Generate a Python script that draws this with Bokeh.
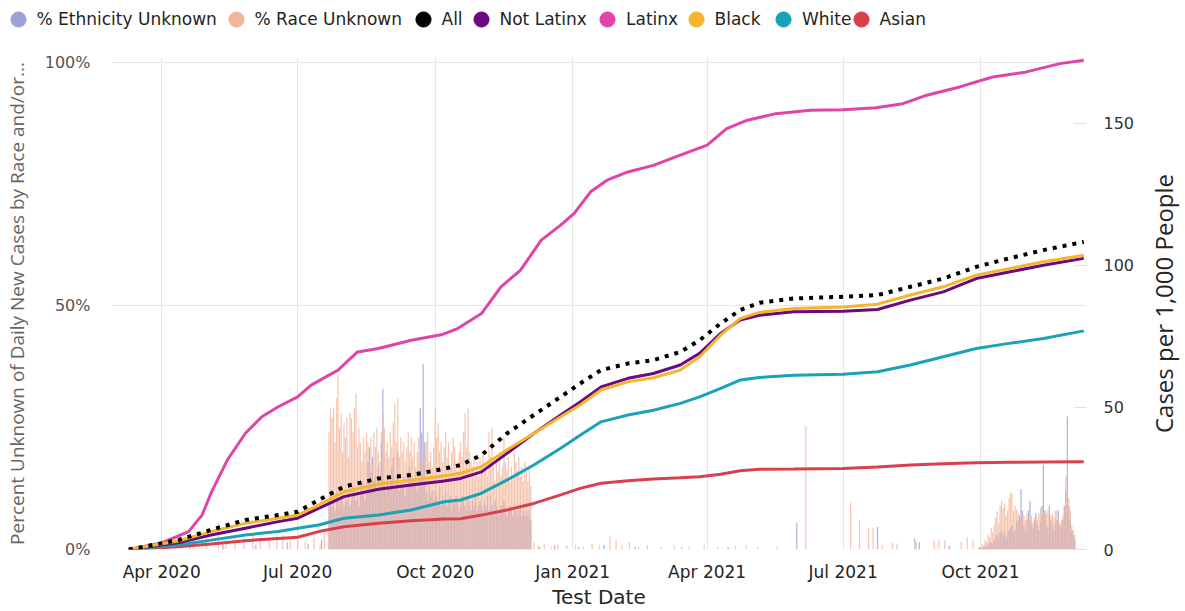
import pandas as pd
from bokeh.plotting import figure
from bokeh.layouts import column, row
from bokeh.models import (Range1d, LinearAxis, FixedTicker, MonthsTicker, DatetimeTickFormatter,
                          NumeralTickFormatter, Legend, LegendItem, ColumnDataSource)
from bokeh.embed import file_html
from bokeh.resources import INLINE

# ---------------- data ----------------
line_dates = ["2020-03-10", "2020-04-12", "2020-05-04", "2020-05-27", "2020-06-18", "2020-07-01",
              "2020-07-15", "2020-08-01", "2020-08-24", "2020-09-15", "2020-10-07", "2020-10-18",
              "2020-11-01", "2020-11-18", "2020-12-06", "2020-12-24", "2021-01-06", "2021-01-20",
              "2021-02-07", "2021-02-24", "2021-03-14", "2021-03-27", "2021-04-10", "2021-04-23",
              "2021-05-06", "2021-05-29", "2021-07-01", "2021-07-24", "2021-08-15", "2021-09-06",
              "2021-09-28", "2021-10-20", "2021-11-12", "2021-12-09"]
all_cases = [0, 3.3, 6.9, 10.4, 12.1, 13.3, 17.4, 22.1, 25.0, 26.2, 28.4, 29.7, 33.2, 40.8, 47.3, 53.7,
             58.4, 63.1, 65.4, 66.6, 69.5, 73.6, 79.5, 84.2, 86.8, 88.3, 88.9, 89.5, 92.4, 95.3, 99.4,
             102.4, 105.3, 108.2]
not_latinx = [0, 2.4, 5.1, 7.5, 9.8, 11.0, 14.5, 18.6, 21.2, 22.7, 24.1, 25.0, 27.3, 33.8, 40.8, 47.3,
              51.9, 57.2, 60.2, 61.9, 64.9, 69.0, 76.0, 80.7, 82.4, 83.6, 83.8, 84.4, 87.7, 90.6, 95.3,
              97.6, 100.0, 102.4]
black = [0, 3.0, 6.3, 9.2, 11.0, 12.1, 15.6, 20.3, 23.0, 24.4, 25.9, 26.8, 29.1, 35.0, 40.8, 46.7,
         50.8, 56.1, 59.0, 60.4, 63.1, 67.8, 75.4, 81.2, 83.4, 84.8, 85.3, 86.3, 89.5, 92.4, 96.5,
         98.8, 101.2, 103.5]
white = [0, 1.6, 3.3, 5.1, 6.3, 7.5, 8.6, 11.0, 12.1, 13.9, 16.8, 17.4, 19.8, 24.4, 29.7, 35.6,
         40.2, 44.9, 47.3, 49.0, 51.4, 53.7, 56.7, 59.6, 60.5, 61.3, 61.6, 62.5, 64.9, 67.8, 70.7,
         72.5, 74.2, 76.9]
asian = [0, 1.0, 1.9, 3.1, 3.9, 4.3, 6.3, 8.0, 9.2, 10.1, 10.7, 10.8, 12.1, 13.9, 16.2, 19.2,
         21.5, 23.3, 24.2, 24.8, 25.2, 25.6, 26.5, 27.7, 28.2, 28.3, 28.5, 29.0, 29.7, 30.2, 30.5,
         30.7, 30.8, 30.9]

latinx_dates = ["2020-03-10", "2020-04-01", "2020-04-19", "2020-04-28", "2020-05-04", "2020-05-15",
                "2020-05-27", "2020-06-07", "2020-06-18", "2020-07-01", "2020-07-10", "2020-07-28",
                "2020-08-10", "2020-08-24", "2020-09-15", "2020-10-05", "2020-10-16", "2020-11-01",
                "2020-11-14", "2020-11-27", "2020-12-11", "2020-12-24", "2021-01-02", "2021-01-13",
                "2021-01-24", "2021-02-07", "2021-02-24", "2021-03-14", "2021-04-01", "2021-04-14",
                "2021-04-28", "2021-05-17", "2021-06-09", "2021-07-01", "2021-07-23", "2021-08-10",
                "2021-08-26", "2021-09-17", "2021-10-09", "2021-10-31", "2021-11-23", "2021-12-09"]
latinx = [0, 2.3, 6.3, 12.1, 19.8, 31.5, 40.9, 46.7, 50.2, 53.7, 57.8, 63.1, 69.5, 70.7, 73.6, 75.5,
          77.7, 83.0, 92.4, 98.2, 108.8, 114.1, 118.2, 125.8, 129.9, 132.8, 135.1, 138.7, 142.2,
          148.0, 151.0, 153.3, 154.5, 154.7, 155.4, 156.8, 159.8, 162.7, 166.2, 167.9, 170.9, 172.1]

# daily % unknown, dense block 2020-07-22 .. 2020-12-04
dense_start = "2020-07-22"
race_dense = [24, 29, 27, 29, 22, 31, 36, 25, 28, 20,
              26, 23, 27, 19, 28, 27, 24, 29, 32, 21, 25, 22, 18, 23, 20, 24, 22, 19, 23, 17, 24, 21,
              25, 20, 18, 24, 28, 25, 20, 22, 19,
              24, 21, 26, 30, 22, 31, 19, 23, 20, 22, 18, 21, 24, 20, 23, 19, 22, 17, 20, 23, 18, 21,
              16, 19, 22, 24, 18, 20, 17, 21,
              29, 23, 26, 20, 22, 18, 21, 24, 19, 22, 17, 20, 23, 21, 18, 16, 20, 22, 19, 24, 28, 21,
              29, 20, 18, 17, 19, 16, 18, 15, 19,
              17, 20, 16, 18, 15, 24, 19, 25, 17, 14, 18, 16, 20, 15, 17, 23, 18, 16, 19, 14, 17, 15,
              20, 18, 16, 19, 15, 17, 14, 18,
              16, 14, 17, 13]
eth_dense = [10, 12, 9, 11, 8, 12, 10, 9, 11, 10,
             9, 11, 10, 12, 9, 10, 13, 11, 10, 12, 9, 11, 14, 12, 10, 13, 18, 21, 16, 19, 14, 15,
             12, 17, 13, 22, 33, 14, 12, 15, 13,
             14, 17, 19, 13, 15, 20, 12, 14, 13, 15, 11, 13, 16, 17, 15, 14, 13, 16, 12, 14, 29, 24,
             38, 22, 12, 10, 13, 11, 12, 10,
             12, 11, 10, 13, 9, 11, 10, 12, 9, 10, 11, 8, 10, 9, 11, 10, 8, 9, 11, 10, 9, 8, 10, 9,
             8, 10, 9, 11, 8, 9, 10,
             9, 8, 10, 9, 11, 8, 11, 9, 8, 10, 9, 8, 7, 9, 8, 10, 9, 7, 8, 9, 8, 7, 9, 8, 7, 8, 9,
             7, 8, 7,
             8, 7, 8, 6]

# daily % unknown, late block 2021-10-01 .. 2021-12-03
late_start = "2021-10-01"
race_late = [0.5, 1.2, 0.8, 2.0, 1.5, 3.0, 2.5, 4.4, 3.5, 5.0,
             6.5, 7.8, 5.5, 9.0, 10.0, 8.5, 9.5, 7.0, 8.0, 10.5,
             11.7, 11.5, 8.0, 9.0, 8.2, 7.5, 6.5, 8.0, 6.5, 7.0, 6.0,
             7.5, 6.5, 6.0, 7.0, 5.5, 6.5, 7.0, 6.0, 7.5, 8.5,
             7.0, 6.5, 8.0, 7.5, 8.2, 6.0, 7.0, 7.5, 6.5, 8.0,
             8.0, 6.5, 5.5, 6.0, 7.0, 9.0, 15.0, 11.0, 10.6, 8.0,
             5.0, 4.0, 3.0]
eth_late = [0.5, 0.3, 0.5, 0.8, 0.5, 1.0, 1.2, 1.5, 1.0, 2.0,
            2.5, 3.0, 2.0, 3.5, 4.0, 3.0, 3.5, 2.5, 3.0, 4.0,
            4.5, 5.0, 3.5, 4.0, 5.5, 6.0, 7.0, 12.4, 8.0, 5.0, 4.0,
            6.0, 8.0, 10.0, 5.5, 4.5, 6.0, 7.5, 5.0, 4.0, 5.5,
            9.0, 17.4, 8.0, 5.0, 4.5, 9.0, 6.0, 5.0, 4.0, 5.5,
            6.0, 8.0, 5.0, 4.5, 6.0, 9.0, 12.0, 27.3, 9.0, 6.0,
            4.0, 3.0, 2.0]

# scattered days outside the blocks
race_sparse_dates = ["2020-03-25", "2020-04-05", "2020-04-14", "2020-04-22", "2020-05-01", "2020-05-09",
                     "2020-05-14", "2020-05-20", "2020-05-26", "2020-06-01", "2020-06-06", "2020-06-12",
                     "2020-06-17", "2020-06-21", "2020-06-26", "2020-07-01", "2020-07-06", "2020-07-12",
                     "2020-07-16", "2020-07-19",
                     "2020-12-06", "2020-12-09", "2020-12-13", "2020-12-18", "2020-12-22", "2020-12-28",
                     "2021-01-03", "2021-01-08", "2021-01-14", "2021-01-19", "2021-01-26", "2021-01-30",
                     "2021-02-03", "2021-02-08", "2021-02-14", "2021-02-20", "2021-03-01", "2021-03-10",
                     "2021-03-20", "2021-03-30", "2021-04-08", "2021-04-20", "2021-04-27", "2021-05-05",
                     "2021-05-18", "2021-06-06", "2021-07-06", "2021-07-12", "2021-07-18", "2021-07-21",
                     "2021-07-27", "2021-08-03", "2021-08-06", "2021-08-19", "2021-08-31", "2021-09-03",
                     "2021-09-07", "2021-09-18", "2021-09-22", "2021-09-26"]
race_sparse = [1.0, 1.5, 2.0, 1.2, 2.5, 5.5, 2.0, 3.0, 2.2, 3.0, 2.5, 2.0, 3.2, 3.0, 1.8, 2.0, 1.5, 2.5,
               1.0, 3.5,
               1.5, 0.8, 1.2, 0.6, 1.0, 0.8, 1.0, 0.7, 1.2, 0.8, 2.7, 2.0, 1.0, 1.5, 0.6, 0.8, 0.5, 0.8,
               0.6, 1.0, 0.5, 0.8, 1.0, 0.5, 0.6, 25.3, 9.6, 6.0, 4.5, 4.3, 1.0, 1.5, 1.2, 1.6, 1.8,
               2.0, 1.9, 1.6, 2.5, 1.8]
eth_sparse_dates = ["2020-04-20", "2020-05-12", "2020-06-03", "2020-06-24", "2020-07-08", "2020-07-17",
                    "2020-12-10", "2020-12-20", "2021-01-05", "2021-01-22", "2021-02-12", "2021-03-15",
                    "2021-04-15", "2021-05-31", "2021-07-24", "2021-08-18", "2021-08-21", "2021-09-10",
                    "2021-09-30"]
eth_sparse = [0.8, 1.2, 1.0, 1.5, 1.2, 2.0,
              0.5, 0.8, 0.5, 1.0, 0.5, 0.4, 0.5, 5.5, 4.6, 2.3, 1.5, 0.8, 0.5]

# ---------------- styling ----------------
C_ETH = "#9ea2dc"
C_RACE = "#f2b49a"
C_ALL = "#000000"
C_NOTLAT = "#6a0a7e"
C_LAT = "#e044a7"
C_BLACK = "#f5b52e"
C_WHITE = "#1aa3b6"
C_ASIAN = "#d9404e"
GRID = "#e6e6e6"
FONT = "Open Sans"
TICKFONT = "DejaVu Sans"
DAY = 86400000

# ---------------- main chart ----------------
p = figure(width=1145, height=564, x_axis_type="datetime",
           x_range=Range1d(pd.Timestamp("2020-02-27 10:00"), pd.Timestamp("2021-12-10 20:00")),
           y_range=Range1d(0, 1.0096),
           output_backend="svg", toolbar_location=None,
           min_border_left=110, min_border_right=59, min_border_top=10, min_border_bottom=61)
p.outline_line_color = None
p.background_fill_color = "white"
p.border_fill_color = "white"
p.extra_y_ranges = {"cases": Range1d(0, 173.05)}

def bar_frame(dates, vals):
    return ColumnDataSource(dict(x=pd.to_datetime(dates), top=[v / 100.0 for v in vals]))

eth_dates_all = (list(pd.date_range(dense_start, periods=len(eth_dense), freq="D"))
                 + list(pd.date_range(late_start, periods=len(eth_late), freq="D"))
                 + list(pd.to_datetime(eth_sparse_dates)))
race_dates_all = (list(pd.date_range(dense_start, periods=len(race_dense), freq="D"))
                  + list(pd.date_range(late_start, periods=len(race_late), freq="D"))
                  + list(pd.to_datetime(race_sparse_dates)))
eth_src = bar_frame(eth_dates_all, eth_dense + eth_late + eth_sparse)
race_src = bar_frame(race_dates_all, race_dense + race_late + race_sparse)

p.vbar(x="x", top="top", bottom=0, width=0.85 * DAY, source=eth_src,
       fill_color=C_ETH, fill_alpha=0.8, line_color=None)
p.vbar(x="x", top="top", bottom=0, width=0.85 * DAY, source=race_src,
       fill_color=C_RACE, fill_alpha=0.75, line_color=None)

ld = pd.to_datetime(line_dates)
p.line(pd.to_datetime(latinx_dates), latinx, y_range_name="cases", line_color=C_LAT, line_width=3)
p.line(ld, asian, y_range_name="cases", line_color=C_ASIAN, line_width=3)
p.line(ld, white, y_range_name="cases", line_color=C_WHITE, line_width=3)
p.line(ld, not_latinx, y_range_name="cases", line_color=C_NOTLAT, line_width=3)
p.line(ld, black, y_range_name="cases", line_color=C_BLACK, line_width=3)
p.line(ld, all_cases, y_range_name="cases", line_color=C_ALL, line_width=4, line_dash="4 6")

la = p.left[0]
la.ticker = FixedTicker(ticks=[0, 0.5, 1.0])
la.formatter = NumeralTickFormatter(format="0%")
la.axis_line_color = None
la.major_tick_line_color = None
la.minor_tick_line_color = None
la.major_label_standoff = 15
la.major_label_text_font = TICKFONT
la.major_label_text_font_size = "16px"
la.major_label_text_color = "#5b5350"
la.axis_label = "Percent Unknown of Daily New Cases by Race and/or..."
la.axis_label_text_font = FONT
la.axis_label_text_font_style = "normal"
la.axis_label_text_font_size = "19px"
la.axis_label_text_color = "#666666"
la.axis_label_standoff = 12

ra = LinearAxis(y_range_name="cases", ticker=FixedTicker(ticks=[0, 50, 100, 150]))
ra.axis_line_color = None
ra.major_tick_in = 12
ra.major_tick_out = 0
ra.major_tick_line_color = "#e0e0e0"
ra.minor_tick_line_color = None
ra.major_label_standoff = 17
ra.major_label_text_font = TICKFONT
ra.major_label_text_font_size = "16px"
ra.major_label_text_color = "#333333"
p.add_layout(ra, "right")

xa = p.below[0]
xa.ticker = MonthsTicker(months=[0, 3, 6, 9])
fmt = "%b %Y"
xa.formatter = DatetimeTickFormatter(months=fmt, days=fmt, years=fmt)
xa.axis_line_color = None
xa.major_tick_line_color = None
xa.minor_tick_line_color = None
xa.major_label_standoff = 6
xa.major_label_text_font = TICKFONT
xa.major_label_text_font_size = "17px"
xa.major_label_text_color = "#252423"
xa.axis_label = "Test Date"
xa.axis_label_text_font = TICKFONT
xa.axis_label_text_font_style = "normal"
xa.axis_label_text_font_size = "20px"
xa.axis_label_text_color = "#252423"
xa.axis_label_standoff = 0

p.xgrid.ticker = MonthsTicker(months=[0, 3, 6, 9])
p.xgrid.grid_line_color = GRID
p.ygrid.grid_line_color = GRID

# ---------------- right-hand axis title (own strip so it reads bottom-to-top) ----------------
tf = figure(width=40, height=564, output_backend="svg", toolbar_location=None,
            x_range=Range1d(0, 1), y_range=Range1d(0, 1),
            x_axis_location=None, y_axis_location="left",
            min_border_left=38, min_border_right=0, min_border_top=10, min_border_bottom=61)
tf.outline_line_color = None
tf.grid.visible = False
ta = tf.left[0]
ta.ticker = FixedTicker(ticks=[0.5])
ta.major_label_text_alpha = 0
ta.major_label_text_font_size = "1px"
ta.major_label_standoff = 0
ta.axis_line_color = None
ta.major_tick_line_color = None
ta.minor_tick_line_color = None
ta.axis_label = "Cases per 1,000 People"
ta.axis_label_text_font = FONT
ta.axis_label_text_font_style = "normal"
ta.axis_label_text_font_size = "24px"
ta.axis_label_text_color = "#252423"
ta.axis_label_standoff = 0

# ---------------- legend strip (one legend per entry so each sits where the original's does) ----------------
lf = figure(width=1185, height=47, output_backend="svg", toolbar_location=None,
            x_range=Range1d(0, 1), y_range=Range1d(0, 1),
            x_axis_location=None, y_axis_location=None, min_border=0)
lf.outline_line_color = None
lf.grid.visible = False
legend_entries = [("% Ethnicity Unknown", C_ETH), ("% Race Unknown", C_RACE), ("All", C_ALL),
                  ("Not Latinx", C_NOTLAT), ("Latinx", C_LAT), ("Black", C_BLACK),
                  ("White", C_WHITE), ("Asian", C_ASIAN)]
legend_x = [-1.5, 216.5, 403.5, 461.5, 588, 676.5, 764, 841.5]
for (lab, col), lx in zip(legend_entries, legend_x):
    r = lf.scatter(x=[float("nan")], y=[float("nan")], marker="circle", size=15,
                   fill_color=col, line_color=col)
    lg = Legend(items=[LegendItem(label=lab, renderers=[r])], orientation="horizontal",
                location=(lx, 9.5), glyph_width=38, glyph_height=38, label_height=17,
                label_standoff=0, spacing=0, padding=0, margin=0,
                border_line_color=None, background_fill_alpha=0,
                label_text_font=TICKFONT, label_text_font_size="17px", label_text_color="#252423")
    lf.add_layout(lg, "center")

layout = column(lf, row(p, tf))
open("out.html", "w").write(file_html(layout, INLINE))
